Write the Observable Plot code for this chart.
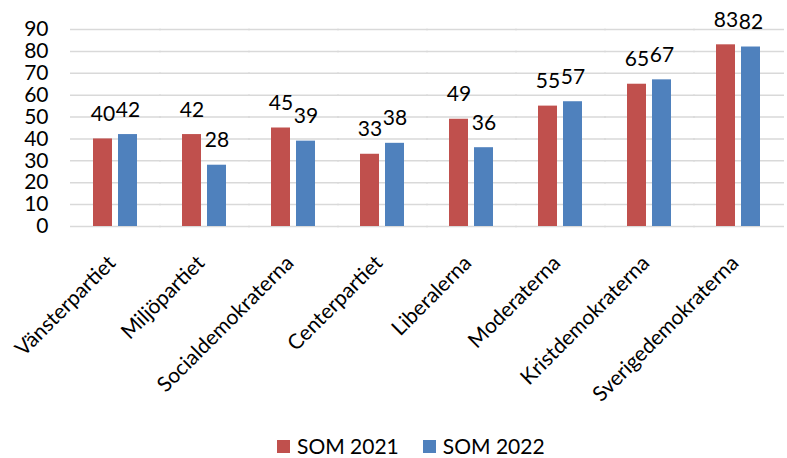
<!DOCTYPE html>
<html>
<head>
<meta charset="utf-8">
<script src="https://cdn.jsdelivr.net/npm/d3@7"></script>
<script src="https://cdn.jsdelivr.net/npm/@observablehq/plot@0.6"></script>
<style>
  body { margin: 0; background: #fff; font-family: Lato, sans-serif; overflow: hidden; }
  #chart svg { display: block; }
  #legend { display: flex; align-items: center; margin-left: 277px; margin-top: 7px; font-size: 21px; line-height: 22px; color: #000; }
  .item { display: flex; align-items: center; margin-right: 24px; }
  .sw { width: 13px; height: 13px; margin-right: 7px; }
</style>
</head>
<body>
<div id="chart"></div>
<div id="legend"></div>
<script>
const parties = ["Vänsterpartiet", "Miljöpartiet", "Socialdemokraterna", "Centerpartiet", "Liberalerna", "Moderaterna", "Kristdemokraterna", "Sverigedemokraterna"];
const series = ["SOM 2021", "SOM 2022"];
const som2021 = [40, 42, 45, 33, 49, 55, 65, 83];
const som2022 = [42, 28, 39, 38, 36, 57, 67, 82];
const colors = ["#C0504D", "#4F81BD"];
const yTicks = [0, 10, 20, 30, 40, 50, 60, 70, 80, 90];

const data = parties.flatMap((p, i) => [
  {party: p, series: series[0], value: som2021[i]},
  {party: p, series: series[1], value: som2022[i]}
]);

const chart = Plot.plot({
  width: 787,
  height: 428,
  marginLeft: 68,
  marginRight: 0,
  marginTop: 29,
  marginBottom: 202,
  style: {fontFamily: "Lato, sans-serif", fontSize: "21px", color: "#000", background: "#fff"},
  fx: {domain: parties, paddingInner: 0.49, paddingOuter: 0.245, label: null},
  x: {domain: series, paddingInner: 0.23, paddingOuter: 0, axis: null},
  y: {domain: [0, 90], label: null},
  color: {domain: series, range: colors},
  marks: [
    Plot.ruleY(yTicks, {stroke: "#d9d9d9", strokeWidth: 1.5, insetLeft: -23, insetRight: -23}),
    Plot.axisY(yTicks, {tickSize: 0, tickPadding: 45, label: null, fill: "#000", fontSize: 21}),
    Plot.axisFx({anchor: "bottom", tickRotate: -45, tickSize: 0, tickPadding: 0, dx: -4, dy: 33, label: null, fill: "#000", fontSize: 21}),
    Plot.barY(data, {fx: "party", x: "series", y: "value", fill: "series"}),
    Plot.text(data, {fx: "party", x: "series", y: "value", text: d => String(d.value), lineAnchor: "bottom", dy: -18, fontSize: 21, fill: "#000"})
  ]
});
document.getElementById("chart").appendChild(chart);

const legend = document.getElementById("legend");
series.forEach((s, i) => {
  const item = document.createElement("div");
  item.className = "item";
  const sw = document.createElement("span");
  sw.className = "sw";
  sw.style.background = colors[i];
  const t = document.createElement("span");
  t.textContent = s;
  item.appendChild(sw);
  item.appendChild(t);
  legend.appendChild(item);
});
</script>
</body>
</html>
